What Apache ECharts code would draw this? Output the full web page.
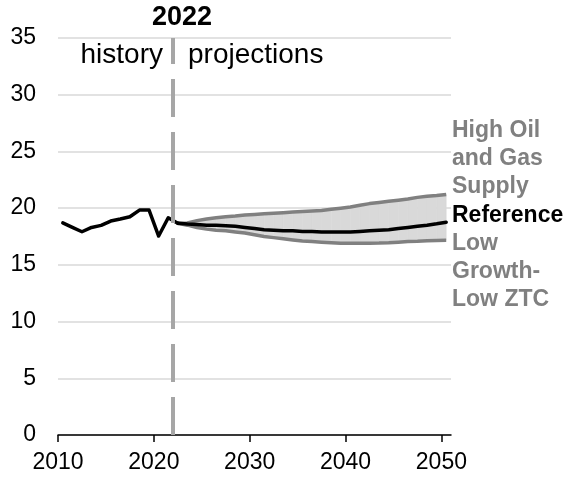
<!DOCTYPE html>
<html>
<head>
<meta charset="utf-8">
<script src="https://cdn.jsdelivr.net/npm/echarts@6/dist/echarts.min.js"></script>
<style>
html,body{margin:0;padding:0;background:#fff;}
#chart{width:565px;height:477px;}
</style>
</head>
<body>
<div id="chart"></div>
<script>
// ---- data ----
const historyYears = [2010,2011,2012,2013,2014,2015,2016,2017,2018,2019,2020,2021,2022];
const historyValues = [18.7,18.3,17.92,18.3,18.48,18.86,19.04,19.24,19.83,19.83,17.54,19.15,18.66];

const projYears = [2022,2023,2024,2025,2026,2027,2028,2029,2030,2031,2032,2033,2034,2035,2036,2037,2038,2039,2040,2041,2042,2043,2044,2045,2046,2047,2048,2049,2050];
const referenceValues = [18.66,18.6,18.55,18.5,18.5,18.45,18.4,18.3,18.2,18.1,18.05,18.0,18.0,17.95,17.95,17.9,17.9,17.9,17.9,17.95,18.0,18.05,18.1,18.2,18.3,18.4,18.5,18.62,18.75];
const highOilGasValues = [18.66,18.7,18.9,19.05,19.15,19.25,19.3,19.4,19.45,19.5,19.55,19.6,19.65,19.7,19.75,19.8,19.9,20.0,20.1,20.25,20.4,20.5,20.6,20.7,20.8,20.95,21.05,21.12,21.2];
const lowGrowthValues = [18.66,18.5,18.3,18.15,18.05,18.0,17.9,17.8,17.65,17.5,17.4,17.3,17.2,17.1,17.05,17.0,16.95,16.9,16.9,16.9,16.9,16.92,16.95,17.0,17.05,17.08,17.12,17.15,17.18];

const xTicks = [2010,2020,2030,2040,2050];
const dividerYear = 2022;
const MIDYEAR = 0.5; // annual values plotted at mid-year

const pair = (years, vals) => years.map((y, i) => [y + MIDYEAR, vals[i]]);
// band segments: [x0, x1, low0, high0, low1, high1]
const bandData = projYears.slice(0, -1).map((y, i) => [
  y + MIDYEAR, projYears[i + 1] + MIDYEAR,
  lowGrowthValues[i], highOilGasValues[i], lowGrowthValues[i + 1], highOilGasValues[i + 1]
]);

const FONT = 'Liberation Sans, Arial, sans-serif';
const chart = echarts.init(document.getElementById('chart'), null, {renderer: 'canvas'});

chart.setOption({
  animation: false,
  grid: {left: 58, right: 114, top: 38, bottom: 42},
  xAxis: {
    type: 'value', min: 2010, max: 2051, interval: 10,
    axisLine: {show: true, lineStyle: {color: '#000', width: 1.5}},
    axisTick: {show: true, customValues: xTicks, length: 7, lineStyle: {color: '#000', width: 1.5}},
    axisLabel: {customValues: xTicks, formatter: v => String(v), color: '#000', fontSize: 23, fontFamily: FONT, margin: 16},
    splitLine: {show: false}
  },
  yAxis: {
    type: 'value', min: 0, max: 35, interval: 5,
    axisLine: {show: false}, axisTick: {show: false},
    axisLabel: {color: '#000', fontSize: 23, fontFamily: FONT, margin: 22},
    splitLine: {show: true, lineStyle: {color: '#d9d9d9', width: 1.5}}
  },
  series: [
    {
      name: 'band', type: 'custom', data: bandData, silent: true, z: 1,
      renderItem: (params, api) => {
        const x0 = api.value(0), x1 = api.value(1);
        const pts = [
          api.coord([x0, api.value(3)]), api.coord([x1, api.value(5)]),
          api.coord([x1, api.value(4)]), api.coord([x0, api.value(2)])
        ];
        return {type: 'polygon', shape: {points: pts}, style: {fill: '#d9d9d9', stroke: '#d9d9d9', lineWidth: 0.6}};
      },
      markLine: {
        silent: true, symbol: 'none', label: {show: false},
        lineStyle: {color: '#a6a6a6', width: 4, type: [38, 15]},
        data: [[{coord: [dividerYear, 0]}, {coord: [dividerYear, 35]}]]
      }
    },
    {
      name: 'High Oil and Gas Supply', type: 'line', data: pair(projYears, highOilGasValues),
      symbol: 'none', lineStyle: {color: '#808080', width: 3.5}, z: 3
    },
    {
      name: 'Low Growth-Low ZTC', type: 'line', data: pair(projYears, lowGrowthValues),
      symbol: 'none', lineStyle: {color: '#808080', width: 3.5}, z: 3
    },
    {
      name: 'History', type: 'line', data: pair(historyYears, historyValues),
      symbol: 'none', lineStyle: {color: '#000', width: 3.5, cap: 'round', join: 'round'}, z: 4
    },
    {
      name: 'Reference', type: 'line', data: pair(projYears, referenceValues),
      symbol: 'none', lineStyle: {color: '#000', width: 3.5, cap: 'round'}, z: 5
    }
  ],
  graphic: [
    {type: 'text', x: 182, y: 18, style: {text: '2022', font: 'bold 27px ' + FONT, fill: '#000', align: 'center', verticalAlign: 'middle'}},
    {type: 'text', x: 163, y: 55, style: {text: 'history', font: '28px ' + FONT, fill: '#000', align: 'right', verticalAlign: 'middle'}},
    {type: 'text', x: 188, y: 55, style: {text: 'projections', font: '28px ' + FONT, fill: '#000', align: 'left', verticalAlign: 'middle'}},
    {type: 'text', x: 452, y: 117, style: {text: 'High Oil\nand Gas\nSupply', font: 'bold 23px ' + FONT, fill: '#808080', lineHeight: 28, verticalAlign: 'top'}},
    {type: 'text', x: 452, y: 202, style: {text: 'Reference', font: 'bold 23px ' + FONT, fill: '#000', lineHeight: 28, verticalAlign: 'top'}},
    {type: 'text', x: 452, y: 230, style: {text: 'Low\nGrowth-\nLow ZTC', font: 'bold 23px ' + FONT, fill: '#808080', lineHeight: 28, verticalAlign: 'top'}}
  ]
});
</script>
</body>
</html>
